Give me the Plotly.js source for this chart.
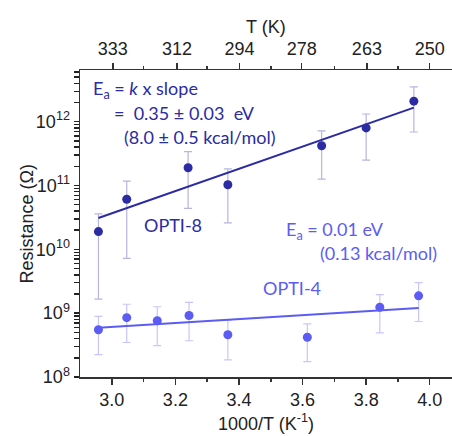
<!DOCTYPE html>
<html><head><meta charset="utf-8">
<script src="https://cdn.plot.ly/plotly-3.0.1.min.js"></script>
<style>html,body{margin:0;padding:0;background:#fff}</style>
</head><body><div id="chart" style="width:452px;height:436px"></div>
<script>
// OPTI-8 data (x = 1000/T, y = resistance in ohm)
const opti8X = [2.958, 3.047, 3.240, 3.365, 3.660, 3.800, 3.950];
const opti8Y = [1.9e10, 6.1e10, 1.9e11, 1.03e11, 4.2e11, 8.0e11, 2.1e12];
const opti8Hi = [3.6e10, 1.17e11, 3.4e11, 1.82e11, 7.2e11, 1.32e12, 3.5e12];
const opti8Lo = [1.66e9, 7.2e9, 4.4e10, 2.6e10, 1.26e11, 2.5e11, 6.9e11];
const opti8FitX = [2.958, 3.950];
const opti8FitY = [3.1e10, 1.66e12];

// OPTI-4 data
const opti4X = [2.958, 3.047, 3.143, 3.243, 3.365, 3.615, 3.843, 3.965];
const opti4Y = [5.5e8, 8.5e8, 7.6e8, 9.2e8, 4.6e8, 4.2e8, 1.24e9, 1.87e9];
const opti4Hi = [8.9e8, 1.38e9, 1.26e9, 1.48e9, 7.8e8, 6.8e8, 1.95e9, 3.0e9];
const opti4Lo = [2.24e8, 3.47e8, 3.1e8, 3.7e8, 1.86e8, 1.74e8, 4.9e8, 7.4e8];
const opti4FitX = [2.958, 3.965];
const opti4FitY = [5.9e8, 1.2e9];

// top axis temperatures
const tempK = [333, 312, 294, 278, 263, 250];
const tempLabels = ['333', '312', '294', '278', '263', '250'];

// y tick decades
const yDecades = [8, 9, 10, 11, 12];

const c8 = '#2b2ba3', c8e = 'rgba(43,43,163,0.35)';
const c4 = '#5c5cf5', c4e = 'rgba(92,92,245,0.35)';

// all log ticks (decades labelled, 2..9 unlabelled)
const yTickVals = [], yTickText = [];
for (let d = 8; d <= 12; d++) for (let m = 1; m <= 9; m++) {
  yTickVals.push(m * Math.pow(10, d));
  yTickText.push(m === 1 ? '10<sup>' + d + '</sup>' : ' ');
}

const traces = [
  {x: opti8X, y: opti8Y, mode: 'markers', type: 'scatter',
   marker: {color: c8, size: 9},
   error_y: {type: 'data', symmetric: false,
     array: opti8Y.map((v, i) => opti8Hi[i] - v),
     arrayminus: opti8Y.map((v, i) => v - opti8Lo[i]),
     color: c8e, thickness: 1.2, width: 4}},
  {x: opti8FitX, y: opti8FitY, mode: 'lines', type: 'scatter', line: {color: c8, width: 2}},
  {x: opti4X, y: opti4Y, mode: 'markers', type: 'scatter',
   marker: {color: c4, size: 9},
   error_y: {type: 'data', symmetric: false,
     array: opti4Y.map((v, i) => opti4Hi[i] - v),
     arrayminus: opti4Y.map((v, i) => v - opti4Lo[i]),
     color: c4e, thickness: 1.2, width: 4}},
  {x: opti4FitX, y: opti4FitY, mode: 'lines', type: 'scatter', line: {color: c4, width: 2}},
  {x: [3.5], y: [1e9], xaxis: 'x2', mode: 'markers', marker: {opacity: 0}, hoverinfo: 'skip'}
];

const axFont = {family: 'Arial', size: 18, color: '#222'};
const annFont = (c) => ({family: 'Lato', size: 18, color: c});

const layout = {
  width: 452, height: 436,
  margin: {l: 80, r: 0, t: 70, b: 59},
  showlegend: false,
  plot_bgcolor: '#fff', paper_bgcolor: '#fff',
  font: axFont,
  xaxis: {range: [2.9, 4.07], tickvals: [3.0, 3.2, 3.4, 3.6, 3.8, 4.0],
    ticktext: ['3.0', '3.2', '3.4', '3.6', '3.8', '4.0'],
    ticks: 'outside', ticklen: 6, tickwidth: 1.5, tickcolor: '#333',
    minor: {tickvals: [3.1, 3.3, 3.5, 3.7, 3.9], ticks: 'outside', ticklen: 3, tickwidth: 1.5, tickcolor: '#333'},
    showline: true, linecolor: '#333', linewidth: 1.5, showgrid: false, zeroline: false,
    tickfont: axFont, automargin: false,
    title: {text: '1000/T (K<sup>-1</sup>)', font: axFont, standoff: 8}},
  xaxis2: {overlaying: 'x', side: 'top', range: [2.9, 4.07],
    tickvals: tempK.map(t => 1000 / t), ticktext: tempLabels,
    ticks: 'outside', ticklen: 6, tickwidth: 1.5, tickcolor: '#333',
    minor: {tickvals: [3.1, 3.3, 3.5, 3.7, 3.9], ticks: 'outside', ticklen: 3, tickwidth: 1.5, tickcolor: '#333'},
    showline: true, linecolor: '#333', linewidth: 1.5, showgrid: false, zeroline: false,
    tickfont: axFont, automargin: false},
  yaxis: {type: 'log', range: [8, 12.81],
    tickmode: 'array', tickvals: yTickVals, ticktext: yTickText,
    ticks: 'outside', ticklen: 5, tickwidth: 1.5, tickcolor: '#222',
    showline: true, linecolor: '#333', linewidth: 1.5, showgrid: false, zeroline: false,
    tickfont: axFont, automargin: false},
  annotations: [
    {x: -0.145, y: 0.5, xref: 'paper', yref: 'paper', xanchor: 'center', yanchor: 'middle',
     showarrow: false, textangle: -90, text: 'Resistance (Ω)', font: axFont},
    {x: 0.5, y: 1.14, xref: 'paper', yref: 'paper', xanchor: 'center', yanchor: 'middle',
     showarrow: false, text: 'T (K)', font: axFont},
    {x: 2.936, y: 12.50, xref: 'x', yref: 'y', xanchor: 'left', yanchor: 'middle', showarrow: false,
     text: 'E<sub>a</sub> = <i>k</i> x slope', font: annFont(c8)},
    {x: 3.002, y: 12.14, xref: 'x', yref: 'y', xanchor: 'left', yanchor: 'middle', showarrow: false,
     text: '=  0.35 ± 0.03  eV', font: annFont(c8)},
    {x: 3.033, y: 11.76, xref: 'x', yref: 'y', xanchor: 'left', yanchor: 'middle', showarrow: false,
     text: '(8.0 ± 0.5 kcal/mol)', font: annFont(c8)},
    {x: 3.096, y: 10.38, xref: 'x', yref: 'y', xanchor: 'left', yanchor: 'middle', showarrow: false,
     text: 'OPTI-8', font: annFont(c8)},
    {x: 3.543, y: 10.30, xref: 'x', yref: 'y', xanchor: 'left', yanchor: 'middle', showarrow: false,
     text: 'E<sub>a</sub> = 0.01 eV', font: annFont(c4)},
    {x: 3.647, y: 9.94, xref: 'x', yref: 'y', xanchor: 'left', yanchor: 'middle', showarrow: false,
     text: '(0.13 kcal/mol)', font: annFont(c4)},
    {x: 3.470, y: 9.39, xref: 'x', yref: 'y', xanchor: 'left', yanchor: 'middle', showarrow: false,
     text: 'OPTI-4', font: annFont(c4)}
  ]
};

Plotly.newPlot('chart', traces, layout, {displayModeBar: false, staticPlot: true});
</script></body></html>
